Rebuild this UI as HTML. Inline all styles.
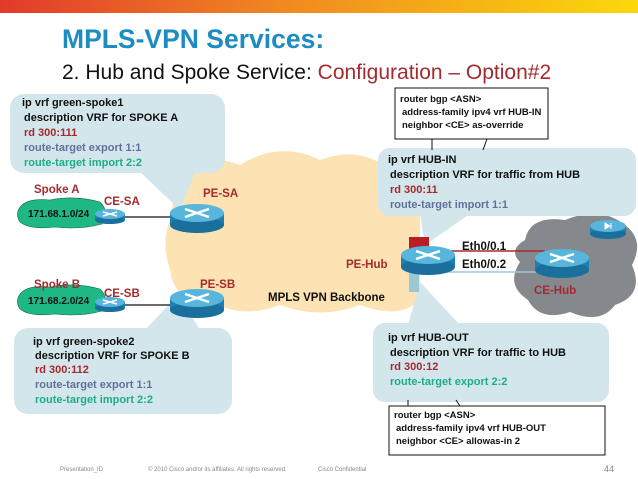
<!DOCTYPE html>
<html><head><meta charset="utf-8"><style>
html,body{margin:0;padding:0;background:#fff;}
svg{display:block;font-family:"Liberation Sans",sans-serif;}
.t{font-size:11px;font-weight:bold;}
</style></head><body>
<svg width="638" height="479" viewBox="0 0 638 479" xmlns="http://www.w3.org/2000/svg">
<defs>
<linearGradient id="bar" x1="0" x2="1"><stop offset="0" stop-color="#e23a2a"/><stop offset="0.45" stop-color="#f08a20"/><stop offset="1" stop-color="#fcd80c"/></linearGradient>
</defs>
<rect x="0" y="0" width="638" height="13" fill="url(#bar)"/>
<text x="62" y="48" font-size="26.5" font-weight="bold" fill="#1c8cc2">MPLS-VPN Services:</text>
<text x="62" y="79" font-size="21" fill="#111">2. Hub and Spoke Service: <tspan fill="#a52a2d">Configuration – Option#2</tspan></text>

<!-- backbone cloud -->
<path d="M175 175 Q200 150 240 165 Q280 140 320 160 Q360 145 390 170 Q420 180 420 210 L420 300 Q400 320 360 305 Q320 320 280 305 Q240 320 210 300 Q175 305 170 270 Q160 240 172 215 Z" fill="#fde3b3"/>
<!-- gray hub cloud -->
<path d="M525 240 Q530 215 565 220 Q600 205 625 225 Q645 240 632 265 Q645 295 615 305 Q600 325 570 312 Q540 322 528 300 Q505 285 520 262 Q508 250 525 240 Z" fill="#85888c"/>

<!-- callouts -->
<g fill="#d3e6ec">
<rect x="10" y="94" width="215" height="79" rx="14"/>
<polygon points="140,172 195,172 180,210"/>
<rect x="14" y="328" width="218" height="86" rx="14"/>
<polygon points="145,330 200,330 178,295"/>
<rect x="378" y="148" width="258" height="68" rx="12"/>
<polygon points="420,214 470,214 425,245"/>
<rect x="373" y="323" width="236" height="79" rx="12"/>
<polygon points="408,325 460,325 420,282"/>
</g>

<!-- green clouds -->
<g fill="#1fb884" stroke="#0e6e50" stroke-width="0.6">
<path d="M22 205 Q30 198 50 200 Q75 195 100 202 Q110 212 102 224 Q80 230 55 227 Q30 230 20 222 Q14 213 22 205Z"/>
<path d="M22 292 Q30 285 50 287 Q75 282 100 289 Q110 299 102 311 Q80 317 55 314 Q30 317 20 309 Q14 300 22 292Z"/>
</g>
<text x="28" y="217" font-size="10" font-weight="bold" fill="#111">171.68.1.0/24</text>
<text x="28" y="304" font-size="10" font-weight="bold" fill="#111">171.68.2.0/24</text>

<!-- links -->
<line x1="110" y1="217" x2="180" y2="217" stroke="#111" stroke-width="1.2"/>
<line x1="110" y1="305" x2="180" y2="305" stroke="#111" stroke-width="1.2"/>
<line x1="445" y1="251" x2="545" y2="251" stroke="#a52a2d" stroke-width="1.5"/>
<line x1="445" y1="272" x2="545" y2="272" stroke="#9cc8d6" stroke-width="1.5"/>
<rect x="409" y="237" width="20" height="14" fill="#b81f24"/>
<rect x="409" y="270" width="10" height="22" fill="#9cc8d6"/>

<!-- routers -->
<g>
<g transform="translate(197,213)"><rect x="-27" y="0" width="54" height="12" fill="#1f7fb0"/><ellipse cx="0" cy="12" rx="27" ry="8" fill="#1a6f9c"/><ellipse cx="0" cy="0" rx="27" ry="9" fill="#58b5dc"/><path d="M-12 -4 L12 4 M-12 4 L12 -4" stroke="#fff" stroke-width="2.5"/></g>
<g transform="translate(197,298)"><rect x="-27" y="0" width="54" height="12" fill="#1f7fb0"/><ellipse cx="0" cy="12" rx="27" ry="8" fill="#1a6f9c"/><ellipse cx="0" cy="0" rx="27" ry="9" fill="#58b5dc"/><path d="M-12 -4 L12 4 M-12 4 L12 -4" stroke="#fff" stroke-width="2.5"/></g>
<g transform="translate(110,214)"><rect x="-15" y="0" width="30" height="6" fill="#1f7fb0"/><ellipse cx="0" cy="6" rx="15" ry="4" fill="#1a6f9c"/><ellipse cx="0" cy="0" rx="15" ry="5" fill="#58b5dc"/><path d="M-7 -2 L7 2 M-7 2 L7 -2" stroke="#fff" stroke-width="1.5"/></g>
<g transform="translate(110,302)"><rect x="-15" y="0" width="30" height="6" fill="#1f7fb0"/><ellipse cx="0" cy="6" rx="15" ry="4" fill="#1a6f9c"/><ellipse cx="0" cy="0" rx="15" ry="5" fill="#58b5dc"/><path d="M-7 -2 L7 2 M-7 2 L7 -2" stroke="#fff" stroke-width="1.5"/></g>
<g transform="translate(428,255)"><rect x="-27" y="0" width="54" height="12" fill="#1f7fb0"/><ellipse cx="0" cy="12" rx="27" ry="8" fill="#1a6f9c"/><ellipse cx="0" cy="0" rx="27" ry="9" fill="#58b5dc"/><path d="M-12 -4 L12 4 M-12 4 L12 -4" stroke="#fff" stroke-width="2.5"/></g>
<g transform="translate(562,258)"><rect x="-27" y="0" width="54" height="12" fill="#1f7fb0"/><ellipse cx="0" cy="12" rx="27" ry="8" fill="#1a6f9c"/><ellipse cx="0" cy="0" rx="27" ry="9" fill="#58b5dc"/><path d="M-12 -4 L12 4 M-12 4 L12 -4" stroke="#fff" stroke-width="2.5"/></g>
<g transform="translate(608,226)"><rect x="-18" y="0" width="36" height="8" fill="#1f7fb0"/><ellipse cx="0" cy="8" rx="18" ry="5" fill="#1a6f9c"/><ellipse cx="0" cy="0" rx="18" ry="6" fill="#58b5dc"/><path d="M-3 -3 L2 0 L-3 3Z M3 -3 V3" fill="#fff" stroke="#fff"/></g>
</g>

<!-- labels -->
<g font-size="11.5" font-weight="bold" fill="#a52a2d">
<text x="34" y="193">Spoke A</text><text x="104" y="205">CE-SA</text><text x="203" y="197">PE-SA</text>
<text x="34" y="288">Spoke B</text><text x="104" y="297">CE-SB</text><text x="200" y="288">PE-SB</text>
<text x="346" y="268">PE-Hub</text><text x="534" y="294">CE-Hub</text>
</g>
<text x="268" y="301" font-size="11.5" font-weight="bold" fill="#111">MPLS VPN Backbone</text>
<text x="462" y="250" font-size="11.5" font-weight="bold" fill="#111">Eth0/0.1</text>
<text x="462" y="268" font-size="11.5" font-weight="bold" fill="#111">Eth0/0.2</text>

<!-- callout texts -->
<g class="t">
<text x="22" y="106" fill="#111">ip vrf green-spoke1</text>
<text x="24" y="121" fill="#111">description VRF for SPOKE A</text>
<text x="24" y="136" fill="#a52a2d">rd 300:111</text>
<text x="24" y="151" fill="#63709c">route-target export  1:1</text>
<text x="24" y="166" fill="#1cae88">route-target import  2:2</text>

<text x="33" y="345" fill="#111">ip vrf green-spoke2</text>
<text x="35" y="359" fill="#111">description VRF for SPOKE B</text>
<text x="35" y="373" fill="#a52a2d">rd 300:112</text>
<text x="35" y="388" fill="#63709c">route-target export  1:1</text>
<text x="35" y="403" fill="#1cae88">route-target import  2:2</text>

<text x="388" y="163" fill="#111">ip vrf HUB-IN</text>
<text x="390" y="178" fill="#111">description VRF for traffic from HUB</text>
<text x="390" y="193" fill="#a52a2d">rd 300:11</text>
<text x="390" y="208" fill="#63709c">route-target import  1:1</text>

<text x="388" y="341" fill="#111">ip vrf HUB-OUT</text>
<text x="390" y="356" fill="#111">description VRF for traffic to HUB</text>
<text x="390" y="370" fill="#a52a2d">rd 300:12</text>
<text x="390" y="385" fill="#1cae88">route-target export  2:2</text>
</g>

<!-- bgp boxes -->
<rect x="395" y="88" width="153" height="51" fill="#fff" stroke="#111" stroke-width="1"/>
<line x1="432" y1="139" x2="432" y2="150" stroke="#111"/><line x1="487" y1="139" x2="483" y2="150" stroke="#111"/>
<g font-size="9.5" font-weight="bold" fill="#111">
<text x="400" y="102">router bgp &lt;ASN&gt;</text>
<text x="402" y="115">address-family ipv4 vrf HUB-IN</text>
<text x="402" y="128">neighbor &lt;CE&gt; as-override</text>
</g>
<rect x="389" y="406" width="216" height="49" fill="#fff" stroke="#111" stroke-width="1"/>
<line x1="408" y1="400" x2="408" y2="406" stroke="#111"/><line x1="456" y1="400" x2="460" y2="406" stroke="#111"/>
<g font-size="9.5" font-weight="bold" fill="#111">
<text x="394" y="418">router bgp &lt;ASN&gt;</text>
<text x="396" y="431">address-family ipv4 vrf HUB-OUT</text>
<text x="396" y="444">neighbor &lt;CE&gt; allowas-in 2</text>
</g>

<!-- footer -->
<g font-size="6" fill="#888">
<text x="60" y="471">Presentation_ID</text>
<text x="148" y="471">© 2010 Cisco and/or its affiliates. All rights reserved.</text>
<text x="318" y="471">Cisco Confidential</text>
<text x="604" y="472" font-size="9">44</text>
</g>
</svg>
</body></html>
